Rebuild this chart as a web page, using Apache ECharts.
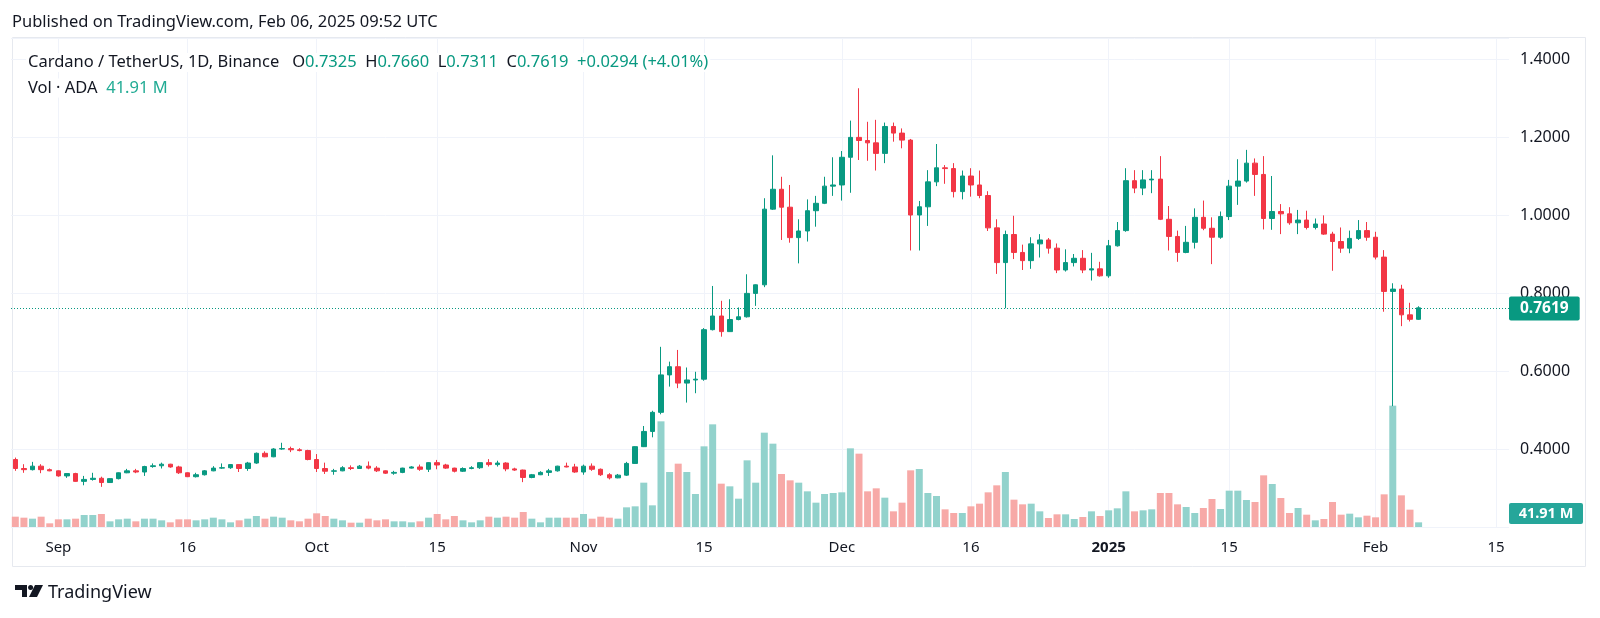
<!DOCTYPE html>
<html><head><meta charset="utf-8">
<script src="https://cdn.jsdelivr.net/npm/echarts/dist/echarts.min.js"></script>
<style>html,body{margin:0;padding:0;background:#fff;}#c{width:1600px;height:618px;}</style>
</head><body><div id="c"></div>
<script>
// ---- data: ADA/USDT daily, 2024-08-27 .. 2025-02-06 ----
const startDate = [2024, 8, 27];      // first candle (y, m, d)
const axisEndDate = [2025, 2, 16];    // last slot on the time axis
const opens = [0.373,0.350,0.347,0.356,0.347,0.344,0.331,0.337,0.317,0.322,0.325,0.314,0.324,0.339,0.344,0.341,0.355,0.357,0.361,0.354,0.339,0.329,0.334,0.344,0.351,0.352,0.360,0.350,0.364,0.389,0.380,0.400,0.401,0.398,0.396,0.373,0.350,0.343,0.344,0.352,0.350,0.356,0.351,0.344,0.338,0.340,0.351,0.354,0.348,0.365,0.359,0.351,0.343,0.350,0.352,0.365,0.360,0.364,0.349,0.346,0.327,0.334,0.340,0.344,0.356,0.354,0.341,0.356,0.348,0.334,0.326,0.333,0.363,0.406,0.445,0.494,0.590,0.611,0.569,0.577,0.579,0.706,0.741,0.701,0.732,0.739,0.799,0.821,1.015,1.066,1.020,0.942,0.959,1.011,1.030,1.074,1.077,1.148,1.199,1.191,1.185,1.158,1.227,1.210,1.192,1.000,1.021,1.085,1.121,1.119,1.060,1.100,1.077,1.050,0.967,0.878,0.950,0.904,0.883,0.926,0.936,0.915,0.859,0.878,0.889,0.859,0.862,0.844,0.921,0.960,1.088,1.069,1.090,1.092,0.989,0.945,0.904,0.930,0.994,0.966,0.943,0.996,1.074,1.087,1.133,1.104,0.991,1.009,1.003,0.980,0.987,0.968,0.977,0.951,0.932,0.915,0.940,0.960,0.943,0.892,0.804,0.810,0.744,0.7325];
const highs = [0.378,0.361,0.367,0.361,0.350,0.345,0.338,0.339,0.331,0.339,0.329,0.325,0.340,0.349,0.349,0.357,0.363,0.365,0.362,0.357,0.340,0.339,0.346,0.356,0.363,0.361,0.361,0.367,0.391,0.394,0.402,0.416,0.406,0.402,0.398,0.387,0.365,0.349,0.356,0.358,0.359,0.368,0.356,0.345,0.344,0.352,0.356,0.360,0.366,0.372,0.362,0.352,0.353,0.356,0.366,0.374,0.370,0.366,0.352,0.347,0.336,0.343,0.349,0.357,0.365,0.362,0.360,0.363,0.350,0.338,0.336,0.367,0.407,0.459,0.498,0.662,0.624,0.654,0.609,0.598,0.710,0.818,0.780,0.784,0.763,0.848,0.822,1.043,1.153,1.098,1.077,0.989,1.040,1.049,1.098,1.148,1.164,1.242,1.325,1.239,1.244,1.237,1.237,1.222,1.195,1.036,1.115,1.182,1.128,1.133,1.114,1.120,1.114,1.061,0.989,0.960,0.998,0.924,0.943,0.951,0.941,0.927,0.912,0.900,0.910,0.903,0.880,0.936,0.982,1.120,1.115,1.115,1.115,1.151,1.023,0.960,0.972,1.017,1.037,0.994,1.009,1.090,1.143,1.167,1.145,1.151,1.100,1.028,1.020,1.013,1.011,0.991,0.999,0.957,0.968,0.960,0.987,0.982,0.957,0.910,0.825,0.821,0.775,0.7660];
const lows = [0.344,0.339,0.345,0.338,0.343,0.329,0.326,0.316,0.307,0.319,0.303,0.313,0.322,0.338,0.338,0.331,0.352,0.350,0.352,0.336,0.328,0.327,0.332,0.343,0.349,0.349,0.341,0.344,0.362,0.379,0.379,0.398,0.392,0.394,0.371,0.341,0.336,0.334,0.343,0.346,0.349,0.348,0.341,0.336,0.334,0.338,0.350,0.344,0.341,0.348,0.349,0.340,0.341,0.348,0.349,0.355,0.355,0.343,0.344,0.315,0.325,0.333,0.331,0.342,0.353,0.339,0.334,0.344,0.331,0.322,0.325,0.331,0.362,0.405,0.430,0.489,0.560,0.556,0.519,0.543,0.575,0.704,0.688,0.700,0.730,0.737,0.767,0.815,1.013,0.936,0.929,0.876,0.932,0.970,1.028,1.049,1.037,1.057,1.141,1.139,1.114,1.133,1.188,1.171,0.909,0.909,0.972,1.074,1.080,1.045,1.040,1.047,1.043,0.959,0.849,0.761,0.887,0.859,0.862,0.891,0.901,0.851,0.855,0.868,0.851,0.832,0.842,0.839,0.919,0.957,1.056,1.051,1.056,0.987,0.909,0.880,0.902,0.914,0.961,0.874,0.939,0.987,1.026,1.083,1.049,0.963,0.962,0.951,0.975,0.951,0.963,0.963,0.949,0.857,0.903,0.902,0.936,0.934,0.886,0.752,0.510,0.715,0.727,0.7311];
const closes = [0.350,0.347,0.356,0.347,0.344,0.331,0.337,0.317,0.322,0.325,0.314,0.324,0.339,0.344,0.341,0.355,0.357,0.361,0.354,0.339,0.329,0.334,0.344,0.351,0.352,0.360,0.350,0.364,0.389,0.380,0.400,0.401,0.398,0.396,0.373,0.350,0.343,0.344,0.352,0.350,0.356,0.351,0.344,0.338,0.340,0.351,0.354,0.348,0.365,0.359,0.351,0.343,0.350,0.352,0.365,0.360,0.364,0.349,0.346,0.327,0.334,0.340,0.344,0.356,0.354,0.341,0.356,0.348,0.334,0.326,0.333,0.363,0.406,0.445,0.494,0.590,0.611,0.569,0.577,0.579,0.706,0.741,0.701,0.732,0.739,0.799,0.821,1.015,1.066,1.020,0.942,0.959,1.011,1.030,1.074,1.077,1.148,1.199,1.191,1.185,1.158,1.227,1.210,1.192,1.000,1.021,1.085,1.121,1.119,1.060,1.100,1.077,1.050,0.967,0.878,0.950,0.904,0.883,0.926,0.936,0.915,0.859,0.878,0.889,0.859,0.862,0.844,0.921,0.960,1.088,1.069,1.090,1.092,0.989,0.945,0.904,0.930,0.994,0.966,0.943,0.996,1.074,1.087,1.133,1.104,0.991,1.009,1.003,0.980,0.987,0.968,0.977,0.951,0.932,0.915,0.940,0.960,0.943,0.892,0.804,0.810,0.744,0.7325,0.7619];
// volume, millions of ADA
const volumes = [93,84,75,93,33,69,69,75,108,108,117,51,69,75,51,75,75,60,42,69,69,60,69,84,69,42,60,75,99,75,93,84,60,51,75,123,99,75,60,39,39,75,60,69,51,51,42,51,84,117,69,99,60,42,60,93,84,93,84,135,75,42,84,84,84,84,117,75,93,84,75,177,186,399,195,951,495,570,495,297,726,924,390,366,255,600,399,849,750,477,420,399,321,219,297,306,312,708,660,321,348,264,141,219,510,522,306,279,159,126,126,186,210,312,375,495,246,204,210,141,81,114,114,72,90,141,99,150,168,321,141,150,159,306,306,204,180,126,171,252,162,327,327,243,225,465,387,261,126,171,111,60,72,225,111,120,87,102,87,294,1092,285,156,41.91];
const tickLabels = [['2024-09-01','Sep'],['2024-09-16','16'],['2024-10-01','Oct'],['2024-10-15','15'],['2024-11-01','Nov'],['2024-11-15','15'],['2024-12-01','Dec'],['2024-12-16','16'],['2025-01-01','2025'],['2025-01-15','15'],['2025-02-01','Feb'],['2025-02-15','15']];
const priceMin = 0.2, priceStep = 0.2;
const headerTitle = 'Published on TradingView.com, Feb 06, 2025 09:52 UTC';
const symbolTitle = 'Cardano / TetherUS, 1D, Binance';

// ---- build ----
const pad = n => (n < 10 ? '0' : '') + n;
const iso = t => { const d = new Date(t); return d.getUTCFullYear() + '-' + pad(d.getUTCMonth() + 1) + '-' + pad(d.getUTCDate()); };
const categories = [];
for (let t = Date.UTC(startDate[0], startDate[1] - 1, startDate[2]); t <= Date.UTC(axisEndDate[0], axisEndDate[1] - 1, axisEndDate[2]); t += 86400000) categories.push(iso(t));
const labelMap = {}; tickLabels.forEach(([d, s]) => labelMap[d] = s);

const UP = '#089981', DOWN = '#f23645', VUP = '#92d2cc', VDOWN = '#f7a9a7', TXT = '#131722', GRIDC = '#f0f3fa';
const FONT = "'Noto Sans', 'Open Sans', sans-serif";
const GL = 11, GR = 91, GT = 38, GB = 91;
const plotH = 618 - GT - GB;
const FS = 16.5;

const candleData = opens.map((o, i) => [o, closes[i], lows[i], highs[i]]);
const volData = volumes.map((v, i) => ({ value: v, itemStyle: { color: closes[i] >= opens[i] ? VUP : VDOWN } }));
const n = closes.length;
const lastO = opens[n - 1], lastH = highs[n - 1], lastL = lows[n - 1], lastC = closes[n - 1], prevC = closes[n - 2];
const chg = lastC - prevC, chgPct = chg / prevC * 100;
const sgn = v => (parseFloat(v) >= 0 ? '+' : '') + v;

const chart = echarts.init(document.getElementById('c'), null, { renderer: 'canvas' });
chart.setOption({
  animation: false,
  backgroundColor: '#fff',
  textStyle: { fontFamily: FONT },
  grid: { left: GL, right: GR, top: GT, bottom: GB },
  xAxis: {
    type: 'category', data: categories, boundaryGap: true,
    axisLine: { show: false }, axisTick: { show: false }, splitLine: { show: false },
    axisLabel: {
      interval: (i, v) => labelMap[v] !== undefined,
      formatter: v => labelMap[v] === '2025' ? '{b|2025}' : (labelMap[v] || ''),
      rich: { b: { fontWeight: 'bold', fontSize: 15, color: TXT, fontFamily: FONT } },
      color: TXT, fontSize: 15, margin: 13, fontFamily: FONT
    }
  },
  yAxis: [{
    type: 'value', position: 'right', min: priceMin, max: priceMin + plotH / 390,
    interval: priceStep, scale: false,
    axisLine: { show: false }, axisTick: { show: false },
    axisLabel: { formatter: v => v.toFixed(4), showMinLabel: false, showMaxLabel: false, color: TXT, fontSize: 16, margin: 11, fontFamily: FONT, padding: [3, 0, 0, 0] },
    splitLine: { show: true, lineStyle: { color: GRIDC, width: 1 } }
  }, {
    type: 'value', min: 0, max: plotH * 9, show: false, splitLine: { show: false }
  }],
  series: [{
    type: 'bar', name: 'Vol', xAxisIndex: 0, yAxisIndex: 1, data: volData, barWidth: 7, z: 2,
    markLine: {
      silent: true, symbol: ['none', 'none'], z: 1, label: { show: false },
      lineStyle: { color: GRIDC, type: 'solid', width: 1 },
      data: tickLabels.map(t => ({ xAxis: t[0] }))
    }
  }, {
    type: 'candlestick', name: 'ADAUSDT', xAxisIndex: 0, yAxisIndex: 0, data: candleData, barWidth: 5, z: 3,
    itemStyle: { color: UP, color0: DOWN, borderColor: UP, borderColor0: DOWN, borderWidth: 1 },
    markLine: {
      silent: true, symbol: ['none', 'none'], z: 6,
      data: [{ yAxis: lastC }],
      lineStyle: { color: UP, type: [1, 2], width: 1 },
      label: { show: true, position: 'end', distance: 0, formatter: lastC.toFixed(4), backgroundColor: UP, color: '#fff', fontWeight: 'bold', fontSize: 15.5, fontFamily: FONT, padding: [4, 11, 4, 11], borderRadius: 2 }
    }
  }],
  graphic: [
    { type: 'rect', silent: true, z: -1, shape: { x: 12.5, y: 37.5, width: 1573, height: 529 }, style: { fill: null, stroke: '#e6e9ef', lineWidth: 1 } },
    { type: 'text', x: 12, y: 22, style: { text: headerTitle, fill: TXT, fontSize: FS, fontFamily: FONT, verticalAlign: 'middle' } },
    { type: 'text', x: 26, y: 62.5, z: 10, style: {
        text: '{t|' + symbolTitle + '}   {t|O}{v|' + lastO.toFixed(4) + '}  {t|H}{v|' + lastH.toFixed(4) + '}  {t|L}{v|' + lastL.toFixed(4) + '}  {t|C}{v|' + lastC.toFixed(4) + '}  {v|' + sgn(chg.toFixed(4)) + ' (' + sgn(chgPct.toFixed(2)) + '%)}',
        fontSize: FS, fontFamily: FONT, verticalAlign: 'middle', backgroundColor: '#fff', padding: [1, 2],
        rich: { t: { fill: TXT, fontSize: FS, fontFamily: FONT }, v: { fill: UP, fontSize: FS, fontFamily: FONT } } } },
    { type: 'text', x: 26, y: 88, z: 10, style: {
        text: '{t|Vol · ADA}  {v|' + volumes[n - 1].toFixed(2) + ' M}',
        fontSize: FS, fontFamily: FONT, verticalAlign: 'middle', backgroundColor: '#fff', padding: [1, 2],
        rich: { t: { fill: TXT, fontSize: FS, fontFamily: FONT }, v: { fill: '#22ab94', fontSize: FS, fontFamily: FONT } } } },
    { type: 'group', x: 1509, y: 503, children: [
        { type: 'rect', shape: { x: 0, y: 0, width: 74, height: 21, r: 2 }, style: { fill: '#26a69a' } },
        { type: 'text', x: 37, y: 11, style: { text: volumes[n - 1].toFixed(2) + ' M', fill: '#fff', fontWeight: 'bold', fontSize: 14.5, fontFamily: FONT, align: 'center', verticalAlign: 'middle' } }
    ] },
    { type: 'group', x: 15, y: 585, children: [
        { type: 'polygon', shape: { points: [[0, 0], [12, 0], [12, 12], [7, 12], [7, 5], [0, 5]] }, style: { fill: TXT } },
        { type: 'circle', shape: { cx: 15.6, cy: 2.5, r: 2.5 }, style: { fill: TXT } },
        { type: 'polygon', shape: { points: [[20, 0], [28, 0], [22, 12], [14, 12]] }, style: { fill: TXT } }
    ] },
    { type: 'text', x: 48, y: 593, style: { text: 'TradingView', fill: TXT, fontSize: 18, fontFamily: FONT, verticalAlign: 'middle' } }
  ]
});
</script>
</body></html>
